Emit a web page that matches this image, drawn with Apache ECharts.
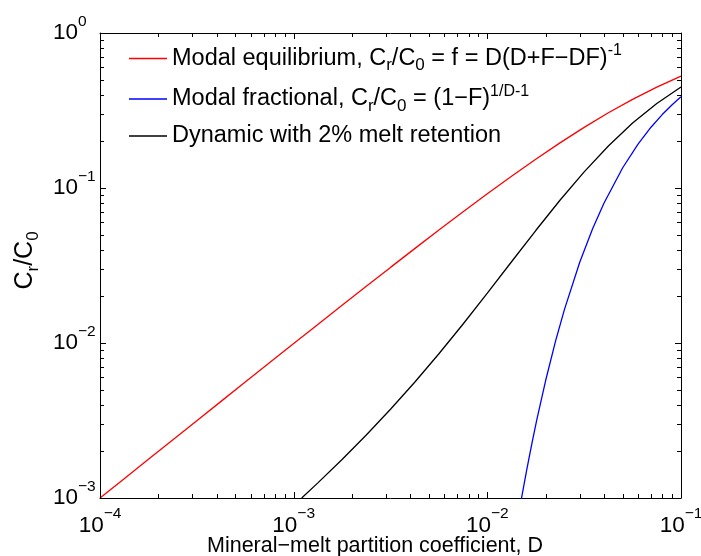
<!DOCTYPE html>
<html>
<head>
<meta charset="UTF-8">
<title>Cr/C0 vs D</title>
<script src="https://cdn.jsdelivr.net/npm/echarts@6/dist/echarts.min.js"></script>
<style>
html, body { margin: 0; padding: 0; background: #fff; }
#chart { width: 701px; height: 556px; }
</style>
</head>
<body>
<div id="chart"></div>
<script>
// axis ranges
var X_MIN = 1e-4, X_MAX = 1e-1;
var Y_MIN = 1e-3, Y_MAX = 1;

// modal equilibrium (red)
var dEq = [0.0001, 0.00013335, 0.00017783, 0.00023714, 0.00031623, 0.0004217, 0.00056234, 0.00074989,
           0.001, 0.0013335, 0.0017783, 0.0023714, 0.0031623, 0.004217, 0.0056234, 0.0074989,
           0.01, 0.013335, 0.017783, 0.023714, 0.031623, 0.04217, 0.056234, 0.074989, 0.1];
var cEq = [0.0009991, 0.0013319, 0.0017755, 0.0023664, 0.0031533, 0.004201, 0.0055951, 0.0074486,
           0.0099108, 0.013177, 0.017503, 0.023219, 0.030748, 0.040628, 0.053525, 0.070248,
           0.091743, 0.11906, 0.1533, 0.19543, 0.24617, 0.30568, 0.37337, 0.44772, 0.52632];

// modal fractional (blue)
var dFrac = [0.0148, 0.015, 0.016, 0.017, 0.018, 0.02, 0.0225, 0.025, 0.03, 0.035, 0.04, 0.05, 0.06, 0.07, 0.08, 0.09, 0.1];
var cFrac = [0.00089956, 0.00098914, 0.0015343, 0.0022602, 0.0031892, 0.0057264, 0.010282, 0.016423, 0.033152,
             0.054752, 0.079767, 0.135085, 0.19193, 0.24665, 0.2977, 0.34462, 0.38742];

// dynamic with 2% melt retention (black)
var dDyn = [0.0011, 0.0013335, 0.0017783, 0.0023714, 0.0031623, 0.004217, 0.0056234, 0.0074989,
            0.01, 0.013335, 0.017783, 0.023714, 0.031623, 0.04217, 0.056234, 0.074989, 0.1];
var cDyn = [0.0010, 0.0012523, 0.0017731, 0.0025501, 0.0037352, 0.005583, 0.0085218, 0.013266,
            0.020975, 0.033432, 0.053168, 0.083329, 0.12711, 0.18676, 0.26235, 0.35126, 0.44842];

// major ticks (decades) and minor ticks (2..9 in each decade)
var xMajor = [1e-4, 1e-3, 1e-2, 1e-1];
var yMajor = [1e-3, 1e-2, 1e-1, 1];
var xMinor = [2e-4, 3e-4, 4e-4, 5e-4, 6e-4, 7e-4, 8e-4, 9e-4,
              2e-3, 3e-3, 4e-3, 5e-3, 6e-3, 7e-3, 8e-3, 9e-3,
              2e-2, 3e-2, 4e-2, 5e-2, 6e-2, 7e-2, 8e-2, 9e-2];
var yMinor = [2e-3, 3e-3, 4e-3, 5e-3, 6e-3, 7e-3, 8e-3, 9e-3,
              2e-2, 3e-2, 4e-2, 5e-2, 6e-2, 7e-2, 8e-2, 9e-2,
              2e-1, 3e-1, 4e-1, 5e-1, 6e-1, 7e-1, 8e-1, 9e-1];

var names = ['Modal equilibrium', 'Modal fractional', 'Dynamic with 2% melt retention'];
var legendText = {
    'Modal equilibrium': '{n|Modal equilibrium, C}{u|r}{n|/C}{u|0}{n| = f = D(D+F\u2212DF)}{p|-1}',
    'Modal fractional': '{n|Modal fractional, C}{u|r}{n|/C}{u|0}{n| = (1\u2212F)}{p|1/D-1}',
    'Dynamic with 2% melt retention': '{n|Dynamic with 2% melt retention}'
};

var FONT = '"Liberation Sans", Arial, Helvetica, sans-serif';

function pairs(xs, ys) {
    return xs.map(function (x, i) { return [x, ys[i]]; });
}

function powLabel(v) {
    var e = Math.round(Math.log(v) / Math.LN10);
    return '{b|10}{s|' + (e < 0 ? '\u2212' + (-e) : e) + '}';
}

var powRich = {
    b: {fontSize: 22.5, lineHeight: 31, verticalAlign: 'bottom', fontFamily: FONT, color: '#000'},
    s: {fontSize: 15.5, verticalAlign: 'top', fontFamily: FONT, color: '#000'}
};

// tick marks drawn inward on all four sides of the box
function tickSeries(values, isX, len) {
    return {
        type: 'custom',
        silent: true,
        z: 5,
        data: values.map(function (v) { return isX ? [v, Y_MIN] : [X_MIN, v]; }),
        renderItem: function (params, api) {
            var v = api.value(isX ? 0 : 1);
            var a = api.coord(isX ? [v, Y_MIN] : [X_MIN, v]);
            var b = api.coord(isX ? [v, Y_MAX] : [X_MAX, v]);
            var st = {stroke: '#000', lineWidth: 1};
            if (isX) {
                var x = Math.round(a[0]) + 0.5;
                return {type: 'group', children: [
                    {type: 'line', shape: {x1: x, y1: a[1], x2: x, y2: a[1] - len}, style: st},
                    {type: 'line', shape: {x1: x, y1: b[1], x2: x, y2: b[1] + len}, style: st}
                ]};
            }
            var y = Math.round(a[1]) + 0.5;
            return {type: 'group', children: [
                {type: 'line', shape: {x1: a[0], y1: y, x2: a[0] + len, y2: y}, style: st},
                {type: 'line', shape: {x1: b[0], y1: y, x2: b[0] - len, y2: y}, style: st}
            ]};
        }
    };
}

function logAxis(pos, min, max, extra) {
    var ax = {
        type: 'log', logBase: 10, position: pos, min: min, max: max, splitNumber: 3,
        axisLine: {show: true, onZero: false, lineStyle: {color: '#000', width: 1}},
        axisTick: {show: false},
        axisLabel: {show: false},
        splitLine: {show: false}
    };
    for (var k in extra) ax[k] = extra[k];
    return ax;
}

var chart = echarts.init(document.getElementById('chart'));
var option = {
    animation: false,
    backgroundColor: '#fff',
    textStyle: {fontFamily: FONT},
    grid: {left: 100, top: 33, right: 20, bottom: 58, containLabel: false, outerBoundsMode: 'none'},
    legend: {
        data: names,
        orient: 'vertical',
        left: 124, top: 38,
        icon: 'rect',
        itemWidth: 38, itemHeight: 1.4,
        itemGap: 9.5,
        formatter: function (name) { return legendText[name]; },
        textStyle: {
            fontFamily: FONT, fontSize: 23.5, color: '#000',
            rich: {
                n: {fontSize: 23.5, lineHeight: 31, fontFamily: FONT, color: '#000'},
                u: {fontSize: 17, lineHeight: 31, verticalAlign: 'bottom', fontFamily: FONT, color: '#000'},
                p: {fontSize: 16, lineHeight: 31, verticalAlign: 'top', fontFamily: FONT, color: '#000'}
            }
        }
    },
    xAxis: [
        logAxis('bottom', X_MIN, X_MAX, {
            axisLabel: {show: true, margin: 8, formatter: powLabel, rich: powRich},
            name: 'Mineral\u2212melt partition coefficient, D',
            nameLocation: 'middle', nameGap: 37, nameMoveOverlap: false,
            nameTextStyle: {fontFamily: FONT, fontSize: 21.5, color: '#000', padding: [0, 31, 0, 0]}
        }),
        logAxis('top', X_MIN, X_MAX, {})
    ],
    yAxis: [
        logAxis('left', Y_MIN, Y_MAX, {
            axisLabel: {show: true, margin: 47, align: 'left', padding: [0, 0, 8, 0], formatter: powLabel, rich: powRich},
            name: '{n|C}{u|r}{n|/C}{u|0}',
            nameLocation: 'middle', nameRotate: 90, nameGap: 58, nameMoveOverlap: false,
            nameTextStyle: {
                fontFamily: FONT, fontSize: 25, color: '#000', padding: [0, 0, 0, 10],
                rich: {
                    n: {fontSize: 25, lineHeight: 29, verticalAlign: 'top', fontFamily: FONT, color: '#000'},
                    u: {fontSize: 17, lineHeight: 29, verticalAlign: 'bottom', fontFamily: FONT, color: '#000'}
                }
            }
        }),
        logAxis('right', Y_MIN, Y_MAX, {})
    ],
    series: [
        {name: names[0], type: 'line', data: pairs(dEq, cEq), showSymbol: false, clip: true,
         lineStyle: {color: '#ff0000', width: 1.3}, itemStyle: {color: '#ff0000'}},
        {name: names[1], type: 'line', data: pairs(dFrac, cFrac), showSymbol: false, clip: true,
         lineStyle: {color: '#0000ff', width: 1.3}, itemStyle: {color: '#0000ff'}},
        {name: names[2], type: 'line', data: pairs(dDyn, cDyn), showSymbol: false, clip: true,
         lineStyle: {color: '#000000', width: 1.3}, itemStyle: {color: '#000000'}},
        tickSeries(xMajor, true, 6),
        tickSeries(yMajor, false, 6),
        tickSeries(xMinor, true, 4),
        tickSeries(yMinor, false, 4)
    ]
};
chart.setOption(option);
</script>
</body>
</html>
